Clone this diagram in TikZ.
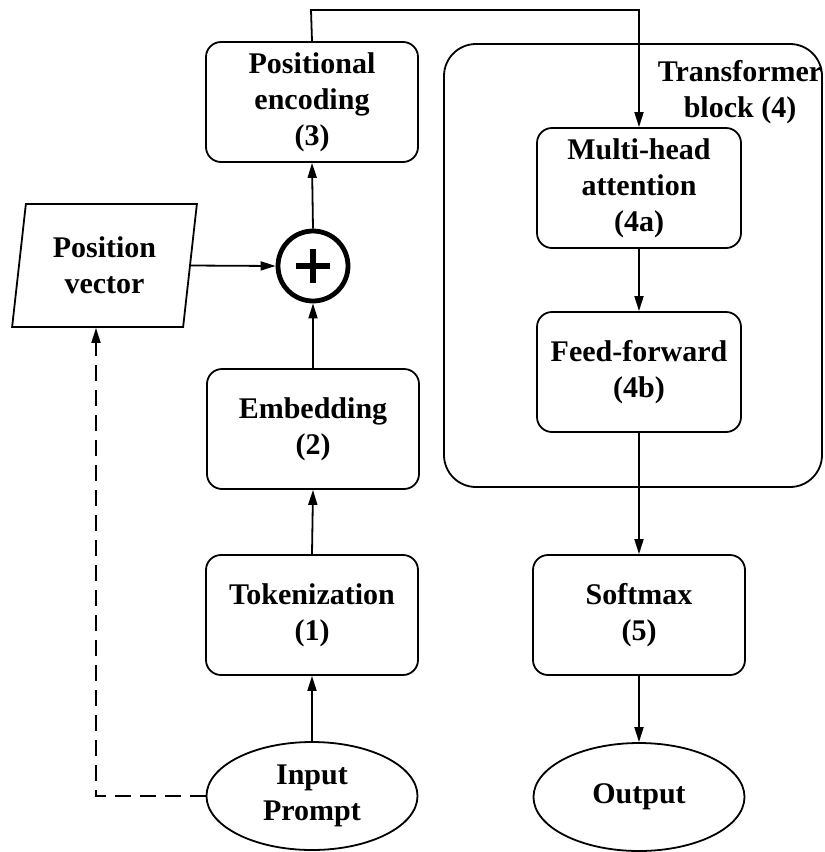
\documentclass[tikz,border=0pt]{standalone}
\usepackage{fontspec}
\setmainfont{Liberation Serif}
\usetikzlibrary{arrows.meta,shapes.geometric,calc}
\begin{document}
\begin{tikzpicture}[x=1pt,y=-1pt,
  every node/.style={font=\bfseries\fontsize{30}{36}\selectfont, align=center, inner sep=0pt},
  stepbox/.style={draw, line width=1.8pt, rounded corners=15pt, minimum width=212pt, minimum height=120pt},
  ovalbox/.style={draw, line width=1.8pt, ellipse, minimum width=211pt, minimum height=108pt},
  arr/.style={line width=1.8pt, -{Triangle[length=15pt,width=9pt]}},
  dashline/.style={line width=1.8pt, dash pattern=on 16pt off 9pt, -{Triangle[length=15pt,width=9pt]}}
]
\useasboundingbox (0,0) rectangle (825,852);
% transformer block
\node[draw, line width=1.8pt, rounded corners=32pt, minimum width=378pt, minimum height=443pt] (tb) at (633,265.5) {};
\node (tbl) at (740,92) {Transformer\\block (4)};
% left column
\node[stepbox] (pe) at (312,102) {Positional\\encoding\\(3)};
\node[draw, circle, line width=4.8pt, minimum size=70pt] (plus) at (313,266) {};
\draw[line width=5.5pt] ($(plus.center)+(-17,0)$) -- ($(plus.center)+(17,0)$);
\draw[line width=5.5pt] ($(plus.center)+(0,-17)$) -- ($(plus.center)+(0,17)$);
\node[stepbox] (emb) at (313,429) {Embedding\\(2)};
\node[stepbox] (tok) at (312,615) {Tokenization\\(1)};
\node[ovalbox] (ip) at (312,796) {Input\\Prompt};
\node[draw, line width=1.8pt, trapezium, trapezium left angle=81, trapezium right angle=99,
      trapezium stretches=true, minimum width=185pt, minimum height=123pt] (pv) at (104.5,265.5) {Position\\vector};
% right column
\node[stepbox, minimum width=204pt] (mha) at (639,188) {Multi-head\\attention\\(4a)};
\node[stepbox, minimum width=204pt] (ff) at (639,372) {Feed-forward\\(4b)};
\node[stepbox] (sm) at (639,615) {Softmax\\(5)};
\node[ovalbox] (out) at (639,797) {Output};
% connectors
\coordinate (t1) at (311,10);
\coordinate (t2) at (639,10);
\coordinate (dc) at (96,796);
\draw[arr] (ip.north) -- (tok.south);
\draw[arr] (tok.north) -- (emb.south);
\draw[arr] (emb.north) -- (plus.south);
\draw[arr] (plus.north) -- (pe.south);
\draw[arr] (pv.east) -- (plus.west);
\draw[arr] (pe.north) -- (t1) -- (t2) -- (mha.north);
\draw[arr] (mha.south) -- (ff.north);
\draw[arr] (ff.south) -- (sm.north);
\draw[arr] (sm.south) -- (out.north);
\draw[dashline] (ip.west) -- (dc) -- (dc |- pv.south);
\end{tikzpicture}
\end{document}
